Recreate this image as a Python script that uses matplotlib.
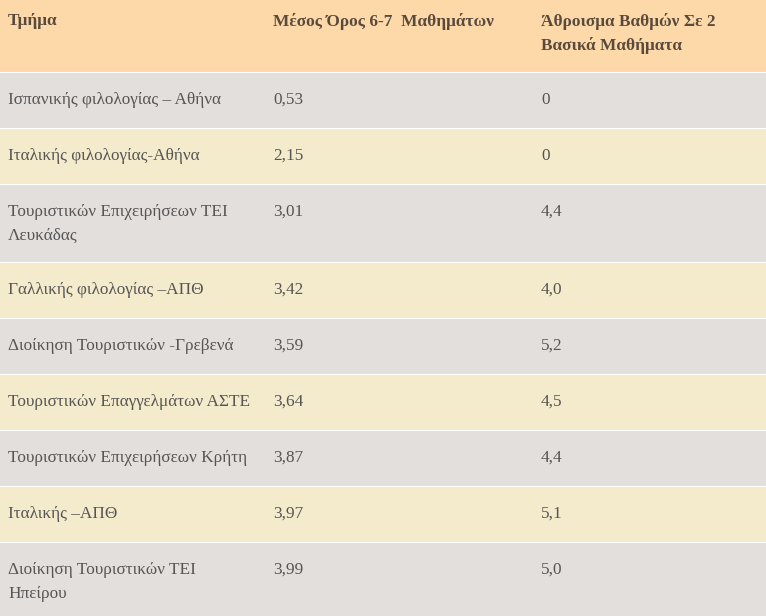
import matplotlib.pyplot as plt
from matplotlib.patches import Rectangle

headers = [["Τμήμα"], ["Μέσος Όρος 6-7  Μαθημάτων"], ["Άθροισμα Βαθμών Σε 2", "Βασικά Μαθήματα"]]
departments = [
    ["Ισπανικής φιλολογίας – Αθήνα"],
    ["Ιταλικής φιλολογίας-Αθήνα"],
    ["Τουριστικών Επιχειρήσεων ΤΕΙ", "Λευκάδας"],
    ["Γαλλικής φιλολογίας –ΑΠΘ"],
    ["Διοίκηση Τουριστικών -Γρεβενά"],
    ["Τουριστικών Επαγγελμάτων ΑΣΤΕ"],
    ["Τουριστικών Επιχειρήσεων Κρήτη"],
    ["Ιταλικής –ΑΠΘ"],
    ["Διοίκηση Τουριστικών ΤΕΙ", "Ηπείρου"],
]
avg_scores = ["0,53", "2,15", "3,01", "3,42", "3,59", "3,64", "3,87", "3,97", "3,99"]
sum_scores = ["0", "0", "4,4", "4,0", "5,2", "4,5", "4,4", "5,1", "5,0"]

W, H = 766, 616
col_x = [8, 273, 541]
row_edges = [0, 72, 128, 184, 262, 318, 374, 430, 486, 542, 616]
header_bg = "#FDD9A9"
row_bgs = ["#E3DFDC", "#F3EBCB"]

fig = plt.figure(figsize=(W / 100, H / 100), dpi=100)
ax = fig.add_axes([0, 0, 1, 1])
ax.set_xlim(0, W)
ax.set_ylim(H, 0)
ax.axis("off")

font = "Liberation Serif"

def draw_cell(x, y0, lines, bold=False, color="#555555"):
    for i, line in enumerate(lines):
        ax.text(x, y0 + 21 + i * 24, line, fontsize=12.4, family=font,
                fontweight="bold" if bold else "normal", color=color, va="center", ha="left")

ax.add_patch(Rectangle((0, 0), W, row_edges[1], color=header_bg, lw=0))
for x, h in zip(col_x, headers):
    draw_cell(x, 0, h, bold=True, color="#5a4a3c")

for i in range(len(departments)):
    y0, y1 = row_edges[i + 1], row_edges[i + 2]
    ax.add_patch(Rectangle((0, y0), W, y1 - y0, color=row_bgs[i % 2], lw=0))
    ax.axhline(y0, color="white", lw=0.8)
    draw_cell(col_x[0], y0 + 7, departments[i])
    draw_cell(col_x[1], y0 + 7, [avg_scores[i]])
    draw_cell(col_x[2], y0 + 7, [sum_scores[i]])

fig.savefig("out.png", dpi=100)
